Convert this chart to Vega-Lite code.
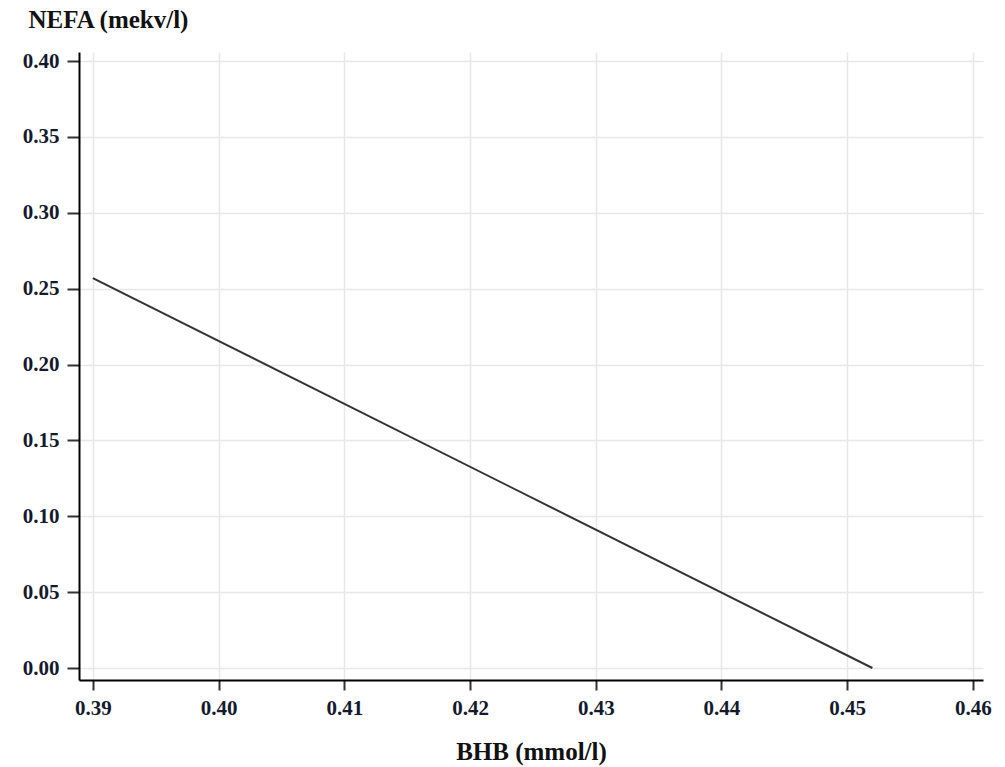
{
  "$schema": "https://vega.github.io/schema/vega-lite/v6.json",
  "autosize": "none",
  "width": 904,
  "height": 628,
  "padding": {"left": 79, "top": 52, "right": 22, "bottom": 87},
  "background": "white",
  "config": {
    "view": {"stroke": null},
    "font": "Liberation Serif",
    "axis": {
      "labelFont": "Liberation Serif",
      "labelFontWeight": "bold",
      "labelFontSize": 21,
      "labelColor": "#141a2e",
      "titleFont": "Liberation Serif",
      "titleFontWeight": "bold",
      "titleFontSize": 25,
      "titleColor": "#111",
      "domainColor": "#000",
      "domainWidth": 2,
      "tickColor": "#333",
      "tickWidth": 2,
      "gridColor": "#e8e8e8",
      "gridWidth": 1.5
    }
  },
  "data": {"values": [
    {"BHB": 0.39, "NEFA": 0.257},
    {"BHB": 0.452, "NEFA": 0.0}
  ]},
  "mark": {"type": "line", "color": "#333", "strokeWidth": 2},
  "encoding": {
    "x": {
      "field": "BHB", "type": "quantitative",
      "scale": {"domain": [0.3889, 0.4608], "nice": false, "zero": false},
      "axis": {
        "title": "BHB (mmol/l)",
        "values": [0.39, 0.40, 0.41, 0.42, 0.43, 0.44, 0.45, 0.46],
        "format": ".2f",
        "tickSize": 10,
        "labelPadding": 7,
        "titleY": 79,
        "titleBaseline": "alphabetic"
      }
    },
    "y": {
      "field": "NEFA", "type": "quantitative",
      "scale": {"domain": [-0.0079, 0.406], "nice": false, "zero": false},
      "axis": {
        "title": "NEFA (mekv/l)",
        "values": [0, 0.05, 0.1, 0.15, 0.2, 0.25, 0.3, 0.35, 0.4],
        "format": ".2f",
        "tickSize": 12,
        "labelPadding": 8,
        "titleAngle": 0,
        "titleAlign": "left",
        "titleBaseline": "alphabetic",
        "titleX": -51,
        "titleY": -25
      }
    }
  }
}
